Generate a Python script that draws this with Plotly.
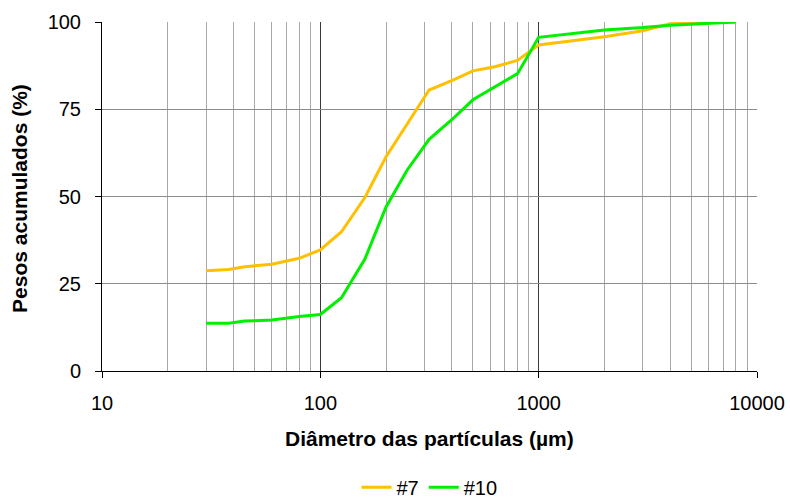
import plotly.graph_objects as go

# Particle diameters (µm) and cumulative mass passing (%)
diametro = [30, 38, 45, 60, 80, 100, 125, 160, 200, 250, 315, 400, 500, 630, 800,
            1000, 2000, 3000, 4000, 8000]
serie_7 = [28.7, 29.1, 29.9, 30.6, 32.3, 34.7, 39.9, 49.7, 61.4, 70.8, 80.5, 83.2,
           86.0, 87.2, 89.0, 93.4, 95.8, 97.5, 99.5, 100.0]
serie_10 = [13.7, 13.7, 14.3, 14.6, 15.6, 16.2, 21.0, 32.1, 47.0, 57.6, 66.4, 72.0,
            77.7, 81.4, 85.2, 95.6, 97.7, 98.4, 99.1, 100.0]

x_ticks = [10, 100, 1000, 10000]
x_labels = ["10", "100", "1000", "10000"]
y_ticks = [0, 25, 50, 75, 100]

x_title = "Diâmetro das partículas (µm)"
y_title = "Pesos acumulados (%)"

FONT = "Liberation Sans, Arial, sans-serif"

fig = go.Figure()
fig.add_trace(go.Scatter(x=diametro, y=serie_7, name="#7", mode="lines",
                         line=dict(color="#FFC000", width=3)))
fig.add_trace(go.Scatter(x=diametro, y=serie_10, name="#10", mode="lines",
                         line=dict(color="#00F000", width=3)))

fig.update_layout(
    width=790, height=502,
    margin=dict(l=102, r=33, t=22, b=131, autoexpand=False),
    paper_bgcolor="white", plot_bgcolor="white",
    font=dict(family=FONT, size=20, color="black"),
    showlegend=True,
    legend=dict(orientation="h", x=0.5, xanchor="center", y=-0.333, yanchor="middle",
                font=dict(size=20), tracegroupgap=0),
    xaxis=dict(
        type="log", range=[1, 4],
        tickvals=x_ticks, ticktext=x_labels,
        showline=True, linecolor="black", linewidth=1,
        ticks="outside", ticklen=6, tickcolor="black",
        ticklabelstandoff=8,
        showgrid=True, gridcolor="#3a3a3a", gridwidth=1,
        minor=dict(dtick="D1", showgrid=True, gridcolor="#a8a8a8", ticks=""),
        zeroline=False,
    ),
    yaxis=dict(
        range=[0, 100],
        tickvals=y_ticks,
        showline=True, linecolor="black", linewidth=1,
        ticks="outside", ticklen=6, tickcolor="black",
        ticklabelstandoff=10,
        showgrid=True, gridcolor="#8c8c8c", gridwidth=1,
        zeroline=False,
    ),
    annotations=[
        dict(text="<b>" + x_title + "</b>", xref="paper", yref="paper",
             x=0.5, y=-0.192, xanchor="center", yanchor="middle",
             showarrow=False, font=dict(size=21)),
        dict(text="<b>" + y_title + "</b>", xref="paper", yref="paper",
             x=-0.1252, y=0.496, xanchor="center", yanchor="middle", textangle=-90,
             showarrow=False, font=dict(size=21)),
    ],
)

fig.write_html("out.html")
